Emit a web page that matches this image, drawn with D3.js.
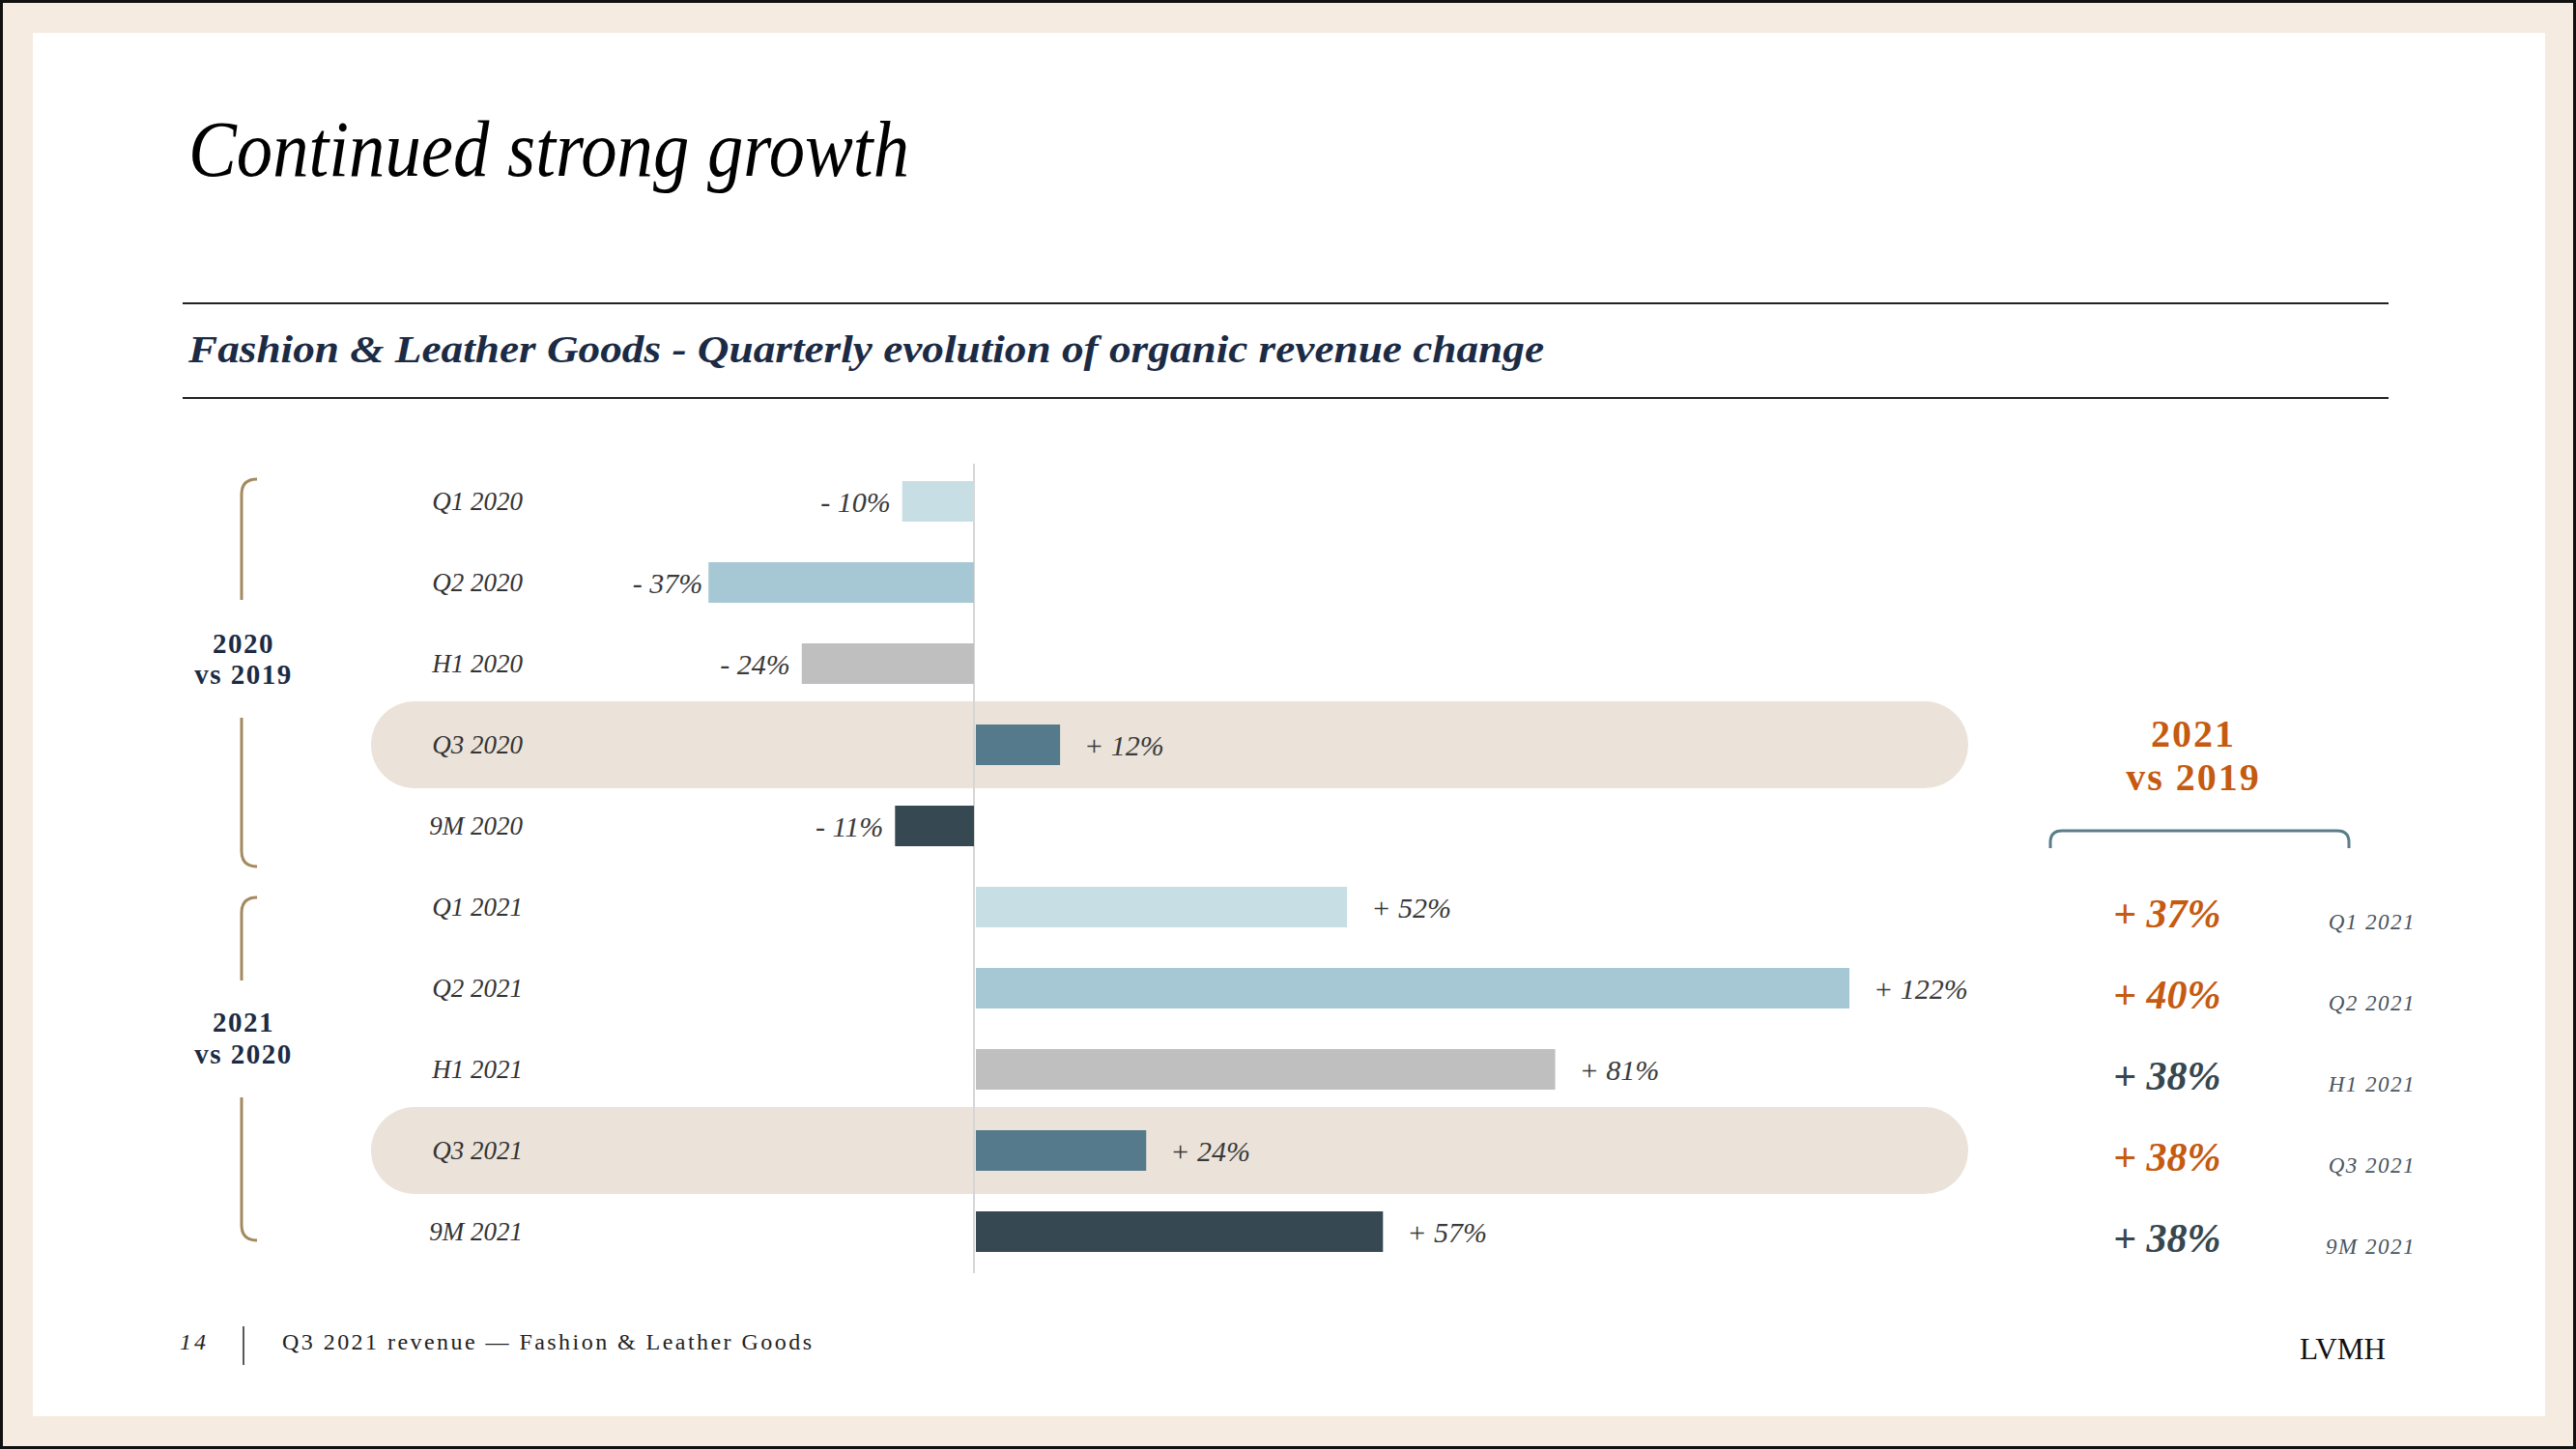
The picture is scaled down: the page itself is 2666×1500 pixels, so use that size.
<!DOCTYPE html>
<html>
<head>
<meta charset="utf-8">
<script src="https://cdn.jsdelivr.net/npm/d3@7"></script>
<style>
  html, body { margin: 0; padding: 0; background: #ffffff; }
  svg { display: block; }
</style>
</head>
<body>
<div id="chart"></div>
<script>
// ---------- DATA ----------
const categories = ["Q1 2020", "Q2 2020", "H1 2020", "Q3 2020", "9M 2020",
                    "Q1 2021", "Q2 2021", "H1 2021", "Q3 2021", "9M 2021"];
const values = [-10, -37, -24, 12, -11, 52, 122, 81, 24, 57];
const highlighted = ["Q3 2020", "Q3 2021"];
const groupLabels = [["2020", "vs 2019"], ["2021", "vs 2020"]];
const vs2019Categories = ["Q1 2021", "Q2 2021", "H1 2021", "Q3 2021", "9M 2021"];
const vs2019Values = [37, 40, 38, 38, 38];
const vs2019Emphasis = [true, true, false, true, false];
const titleText = "Continued strong growth";
const subtitleText = "Fashion & Leather Goods - Quarterly evolution of organic revenue change";
const footerText = "Q3 2021 revenue \u2014 Fashion & Leather Goods";
const pageNumber = "14";

// ---------- STYLE / LAYOUT ----------
const W = 2666, H = 1500;
const periodColor = { "Q1": "#c7dfe4", "Q2": "#a6c8d4", "H1": "#bfbfbf", "Q3": "#557a8b", "9M": "#364851" };
const navy = "#1c2b45", orange = "#c55a11", darkSlate = "#36474f", gold = "#a48a5e";
const serif = "'Liberation Serif', 'Times New Roman', serif";
// bracket geometry (pixels): top, gap start, gap end, bottom, label baselines
const bracketGeom = [
  { top: 496, gapTop: 621, gapBot: 743, bot: 897, l1: 676, l2: 708 },
  { top: 929, gapTop: 1015, gapBot: 1136, bot: 1284, l1: 1068, l2: 1101 }
];

const svg = d3.select("#chart").append("svg").attr("width", W).attr("height", H);

// frame
svg.append("rect").attr("x", 0).attr("y", 0).attr("width", W).attr("height", H).attr("fill", "#111");
svg.append("rect").attr("x", 3).attr("y", 3).attr("width", W - 6).attr("height", H - 6).attr("fill", "#f5ebe1");
svg.append("rect").attr("x", 34).attr("y", 34).attr("width", 2600).attr("height", 1432).attr("fill", "#ffffff");

// title
svg.append("text").attr("x", 195).attr("y", 182)
  .attr("font-family", serif).attr("font-style", "italic").attr("font-size", 82)
  .attr("fill", "#000").attr("textLength", 746).attr("lengthAdjust", "spacingAndGlyphs")
  .text(titleText);

// subtitle rules + text
svg.append("line").attr("x1", 189).attr("x2", 2472).attr("y1", 314).attr("y2", 314)
  .attr("stroke", "#222").attr("stroke-width", 2);
svg.append("line").attr("x1", 189).attr("x2", 2472).attr("y1", 412).attr("y2", 412)
  .attr("stroke", "#222").attr("stroke-width", 2);
svg.append("text").attr("x", 195).attr("y", 375)
  .attr("font-family", serif).attr("font-style", "italic").attr("font-weight", "bold")
  .attr("font-size", 39).attr("fill", navy)
  .attr("textLength", 1403).attr("lengthAdjust", "spacingAndGlyphs")
  .text(subtitleText);

// ---------- SCALES ----------
const y = d3.scaleBand().domain(categories).range([477, 1317]).paddingInner(0.5).paddingOuter(0.25);
const x = d3.scaleLinear().domain([0, 122]).range([1008, 1914]);
const cy = c => y(c) + y.bandwidth() / 2;

// highlight pills
svg.append("g").selectAll("rect").data(highlighted).join("rect")
  .attr("x", 384).attr("width", 2037 - 384)
  .attr("y", d => cy(d) - 45).attr("height", 90)
  .attr("rx", 45).attr("ry", 45)
  .attr("fill", "#ebe3d9");

// zero axis
svg.append("line").attr("x1", x(0)).attr("x2", x(0)).attr("y1", 480).attr("y2", 1318)
  .attr("stroke", "#d6d6d6").attr("stroke-width", 2);

const data = categories.map((c, i) => ({ cat: c, v: values[i], type: c.split(" ")[0] }));

// bars
svg.append("g").selectAll("rect").data(data).join("rect")
  .attr("x", d => Math.min(x(0), x(d.v)) + (d.v >= 0 ? 2 : 0))
  .attr("width", d => Math.abs(x(d.v) - x(0)) - (d.v >= 0 ? 2 : 0))
  .attr("y", d => y(d.cat)).attr("height", y.bandwidth())
  .attr("fill", d => periodColor[d.type]);

// category labels (axis)
const axis = d3.axisLeft(y).tickSize(0).tickPadding(0);
const axisG = svg.append("g").attr("transform", "translate(541,0)").call(axis);
axisG.select(".domain").remove();
axisG.selectAll("text")
  .attr("font-family", serif).attr("font-style", "italic").attr("font-size", 27)
  .attr("fill", "#333").attr("dy", "0.32em");

// value labels
const fmt = v => (v < 0 ? "- " : "+ ") + Math.abs(v) + "%";
svg.append("g").selectAll("text").data(data).join("text")
  .attr("x", d => d.v >= 0 ? x(d.v) + 25 : x(d.v) - (d.v < -30 ? 6 : 12))
  .attr("y", d => cy(d.cat) + 11)
  .attr("text-anchor", d => d.v >= 0 ? "start" : "end")
  .attr("font-family", serif).attr("font-style", "italic").attr("font-size", 30)
  .attr("fill", "#3a3a3a")
  .text(d => fmt(d.v));

// left brackets
bracketGeom.forEach((g, i) => {
  const bx = 250, hook = 16;
  const p1 = `M${bx + hook},${g.top} Q${bx},${g.top} ${bx},${g.top + hook} L${bx},${g.gapTop}`;
  const p2 = `M${bx},${g.gapBot} L${bx},${g.bot - hook} Q${bx},${g.bot} ${bx + hook},${g.bot}`;
  svg.append("path").attr("d", p1).attr("fill", "none").attr("stroke", gold).attr("stroke-width", 3);
  svg.append("path").attr("d", p2).attr("fill", "none").attr("stroke", gold).attr("stroke-width", 3);
  const t = svg.append("text").attr("text-anchor", "middle")
    .attr("font-family", serif).attr("font-weight", "bold").attr("font-size", 29)
    .attr("letter-spacing", 1.5).attr("fill", navy);
  t.append("tspan").attr("x", 252).attr("y", g.l1).text(groupLabels[i][0]);
  t.append("tspan").attr("x", 252).attr("y", g.l2).text(groupLabels[i][1]);
});

// right panel header
const rh = svg.append("text").attr("text-anchor", "middle")
  .attr("font-family", serif).attr("font-weight", "bold").attr("font-size", 40)
  .attr("letter-spacing", 2).attr("fill", orange);
rh.append("tspan").attr("x", 2270).attr("y", 773).text("2021");
rh.append("tspan").attr("x", 2270).attr("y", 818).text("vs 2019");

// right bracket (opening downwards)
svg.append("path")
  .attr("d", "M2122,878 L2122,872 Q2122,860 2134,860 L2419,860 Q2431,860 2431,872 L2431,878")
  .attr("fill", "none").attr("stroke", "#5a7d8a").attr("stroke-width", 3);

const rdata = vs2019Categories.map((c, i) => ({ cat: c, v: vs2019Values[i], em: vs2019Emphasis[i] }));
svg.append("g").selectAll("text").data(rdata).join("text")
  .attr("x", 2187).attr("y", d => cy(d.cat) + 21)
  .attr("font-family", serif).attr("font-style", "italic").attr("font-weight", "bold")
  .attr("font-size", 42)
  .attr("fill", d => d.em ? orange : darkSlate)
  .text(d => "+ " + d.v + "%");
svg.append("g").selectAll("text").data(rdata).join("text")
  .attr("x", 2500).attr("y", d => cy(d.cat) + 23).attr("text-anchor", "end")
  .attr("font-family", serif).attr("font-style", "italic").attr("font-size", 23)
  .attr("letter-spacing", 1.5).attr("fill", "#4a5560")
  .text(d => d.cat);

// footer
svg.append("text").attr("x", 186).attr("y", 1397)
  .attr("font-family", serif).attr("font-style", "italic").attr("font-size", 24)
  .attr("letter-spacing", 3).attr("fill", "#222").text(pageNumber);
svg.append("line").attr("x1", 252).attr("x2", 252).attr("y1", 1373).attr("y2", 1413)
  .attr("stroke", "#222").attr("stroke-width", 1.5);
svg.append("text").attr("x", 292).attr("y", 1397)
  .attr("font-family", serif).attr("font-size", 24).attr("fill", "#222")
  .attr("textLength", 548).attr("lengthAdjust", "spacing")
  .text(footerText);
svg.append("text").attr("x", 2380).attr("y", 1407)
  .attr("font-family", serif).attr("font-size", 32).attr("fill", "#111")
  .attr("textLength", 89).attr("lengthAdjust", "spacingAndGlyphs")
  .text("LVMH");
</script>
</body>
</html>
